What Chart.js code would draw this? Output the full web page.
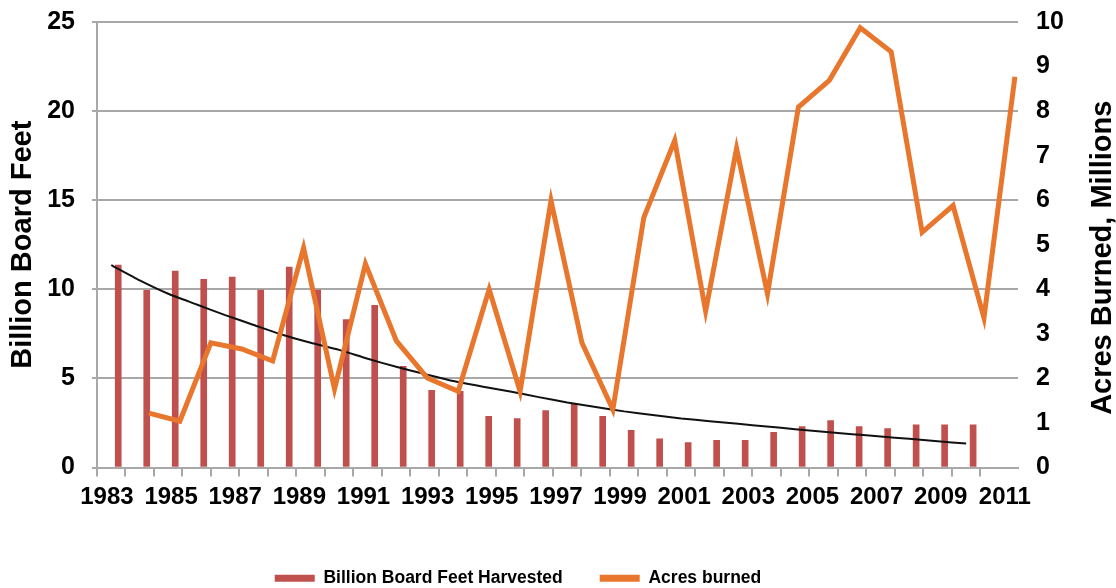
<!DOCTYPE html>
<html>
<head>
<meta charset="utf-8">
<title>Timber harvest vs acres burned</title>
<script src="https://cdn.jsdelivr.net/npm/chart.js@4/dist/chart.umd.min.js"></script>
<style>
  html, body { margin: 0; padding: 0; background: #fff; }
  #wrap { width: 1116px; height: 588px; }
</style>
</head>
<body>
<div id="wrap"><canvas id="chart" width="1116" height="588"></canvas></div>
<script>
// billion board feet harvested, one bar per year (31 bars)
const harvest = [11.36, 9.94, 11.02, 10.56, 10.69, 9.95, 11.25, 9.95, 8.3, 9.1,
  5.68, 4.33, 4.27, 2.87, 2.74, 3.2, 3.58, 2.87, 2.08, 1.61,
  1.4, 1.52, 1.52, 1.97, 2.3, 2.64, 2.3, 2.18, 2.4, 2.4, 2.4];
// black trend line over the bars
const harvestTrend = [11.36, 10.5, 9.75, 9.15, 8.55, 8.0, 7.45, 7.0, 6.6, 6.1,
  5.65, 5.25, 4.85, 4.55, 4.27, 3.95, 3.65, 3.4, 3.15, 2.95,
  2.75, 2.6, 2.45, 2.3, 2.15, 2.0, 1.87, 1.74, 1.61, 1.47, 1.35];
// acres burned, millions
const fireYears = [1983, 1984, 1985, 1986, 1987, 1988, 1989, 1990, 1991, 1992,
  1993, 1994, 1995, 1996, 1997, 1998, 1999, 2000, 2001, 2002,
  2003, 2004, 2005, 2006, 2007, 2008, 2009, 2010, 2011];
const acresBurned = [1.22, 1.04, 2.8, 2.66, 2.39, 4.93, 1.76, 4.57, 2.84, 2.01,
  1.71, 4.0, 1.71, 5.99, 2.8, 1.3, 5.61, 7.34, 3.51, 7.16,
  3.9, 8.09, 8.69, 9.87, 9.33, 5.28, 5.88, 3.36, 8.77];
const yearLabels = [1983, 1985, 1987, 1989, 1991, 1993, 1995, 1997, 1999,
  2001, 2003, 2005, 2007, 2009, 2011];

const RED = '#C0504D';
const ORANGE = '#E8762C';
const GRID = '#A8A8A8';
const FONT = "'Liberation Sans', Arial, sans-serif";

// edges between bar slots, used for the small tick marks under the axis
const barEdges = harvest.map((_, i) => i - 0.5).concat([harvest.length - 0.5]);

const rightTitle = {
  id: 'rightTitle',
  afterLayout(chart) {
    chart.legend.left -= 40;
    chart.legend.right -= 40;
  },
  afterDraw(chart) {
    const {ctx, chartArea} = chart;
    const s = chart.scales.y2;
    ctx.save();
    ctx.translate(s.right - 13, (chartArea.top + chartArea.bottom) / 2 + 13);
    ctx.rotate(-Math.PI / 2);
    ctx.font = 'bold 29px ' + FONT;
    ctx.fillStyle = '#000';
    ctx.textAlign = 'center';
    ctx.textBaseline = 'middle';
    ctx.fillText('Acres Burned, Millions', 0, 0);
    ctx.restore();
  }
};

const pinWidth = w => s => { s.width = w; s.paddingTop = 0; s.paddingBottom = 0; };

new Chart(document.getElementById('chart'), {
  type: 'bar',
  data: {
    datasets: [
      {
        label: 'Billion Board Feet Harvested',
        data: harvest.map((v, i) => ({x: i, y: v})),
        backgroundColor: RED,
        barThickness: 6,
        grouped: false,
        xAxisID: 'xb', yAxisID: 'y',
        order: 3
      },
      {
        type: 'line',
        label: 'trend',
        data: harvestTrend.map((v, i) => ({x: i, y: v})),
        borderColor: '#111',
        borderWidth: 2,
        pointRadius: 0,
        tension: 0.2,
        xAxisID: 'x', yAxisID: 'y',
        order: 2
      },
      {
        type: 'line',
        label: 'Acres burned',
        data: fireYears.map((yr, i) => ({x: yr, y: acresBurned[i]})),
        borderColor: ORANGE,
        backgroundColor: ORANGE,
        borderWidth: 5,
        pointRadius: 0,
        tension: 0,
        clip: false,
        xAxisID: 'x2', yAxisID: 'y2',
        order: 1
      }
    ]
  },
  options: {
    responsive: false,
    animation: false,
    layout: { padding: { top: 22, left: 0, right: 0, bottom: -9 } },
    plugins: {
      tooltip: { enabled: false },
      legend: {
        position: 'bottom',
        labels: {
          boxWidth: 40,
          boxHeight: 7,
          padding: 37,
          color: '#000',
          font: { family: FONT, size: 17.5, weight: 'bold' },
          generateLabels: () => [
            {text: 'Billion Board Feet Harvested', fillStyle: RED, strokeStyle: RED, lineWidth: 0, fontColor: '#000', datasetIndex: 0},
            {text: 'Acres burned', fillStyle: ORANGE, strokeStyle: ORANGE, lineWidth: 0, fontColor: '#000', datasetIndex: 2}
          ]
        }
      }
    },
    scales: {
      x: {
        type: 'linear',
        position: 'bottom',
        offset: false,
        weight: 0,
        min: -0.5,
        max: 31.82,
        afterBuildTicks: s => { s.ticks = barEdges.map(v => ({value: v})); },
        afterFit: s => { s.height = 10; },
        ticks: { display: false },
        grid: { offset: false, drawOnChartArea: false, drawTicks: true, tickLength: 9, color: GRID, lineWidth: 2 },
        border: { display: true, color: GRID, width: 2 }
      },
      xb: {
        type: 'linear',
        display: false,
        offset: false,
        min: -0.745,
        max: 31.575
      },
      x3: {
        type: 'linear',
        position: 'bottom',
        offset: false,
        weight: 1,
        min: 1982.69,
        max: 2011.41,
        afterBuildTicks: s => { s.ticks = yearLabels.map(v => ({value: v})); },
        afterFit: s => { s.height = 55; },
        ticks: {
          autoSkip: false, maxRotation: 0, padding: 5, color: '#000',
          font: { family: FONT, size: 24, weight: 'bold' },
          callback: v => String(v)
        },
        grid: { display: false, drawTicks: false, offset: false },
        border: { display: false }
      },
      x2: {
        type: 'linear',
        display: false,
        offset: false,
        min: 1981.32,
        max: 2011.1
      },
      y: {
        position: 'left',
        min: 0,
        max: 25,
        afterFit: pinWidth(97),
        ticks: {
          stepSize: 5, padding: 17, color: '#000',
          font: { family: FONT, size: 25, weight: 'bold' }
        },
        grid: { color: GRID, lineWidth: 2, tickLength: 5 },
        border: { display: true, color: GRID, width: 2 },
        title: {
          display: true,
          text: 'Billion Board Feet',
          color: '#000',
          padding: { top: 8, bottom: 0 },
          font: { family: FONT, size: 29, weight: 'bold', lineHeight: 1 }
        }
      },
      y2: {
        position: 'right',
        min: 0,
        max: 10,
        afterFit: pinWidth(98),
        ticks: {
          stepSize: 1, padding: 18, color: '#000',
          font: { family: FONT, size: 25, weight: 'bold' }
        },
        grid: { display: false, drawTicks: false },
        border: { display: false }
      }
    }
  },
  plugins: [rightTitle]
});
</script>
</body>
</html>
